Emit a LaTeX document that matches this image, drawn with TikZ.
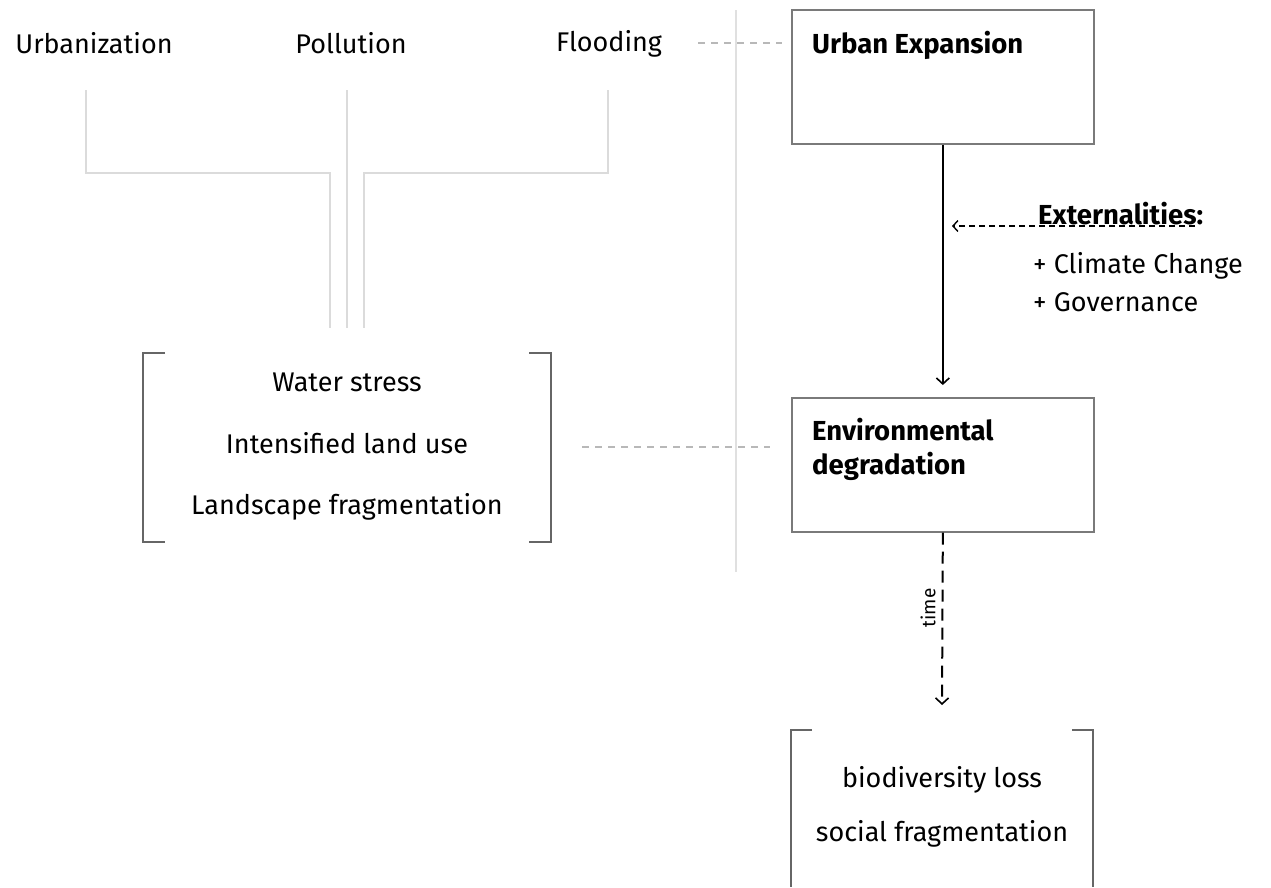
\documentclass[tikz,border=0pt]{standalone}
\usepackage{fontspec}
\setmainfont{Fira Sans}
\usetikzlibrary{arrows.meta}
\begin{document}
\begin{tikzpicture}[x=1pt,y=-1pt,
  lbl/.style={inner sep=0pt, font=\fontsize{27}{32}\selectfont},
  ttl/.style={inner sep=0pt, anchor=north west, align=left,
              font=\fontsize{27.5}{34}\selectfont\bfseries},
  stagebox/.style={draw=black!52, line width=1.7pt, minimum width=302pt,
              minimum height=134pt, anchor=north west, inner sep=0pt},
  tree/.style={draw=black!14, line width=1.3pt},
  link/.style={draw=black!28, line width=1.5pt, dash pattern=on 7pt off 6pt},
  brk/.style={draw=black!60, line width=1.4pt},
  flow/.style={draw=black, line width=1.6pt, -{Straight Barb[length=6pt,width=13pt,line width=1.6pt]}}
]
\useasboundingbox (0,0) rectangle (1271,887);

% divider
\draw[draw=black!12, line width=1.3pt] (736,10) -- (736,572);

% drivers
\node[lbl] (urb) at (94,43) {Urbanization};
\node[lbl] (pol) at (351,43) {Pollution};
\node[lbl] (flo) at (609,44) {Flooding};

\coordinate (urbL) at (86,90);
\coordinate (polL) at (347,90);
\coordinate (floL) at (608,90);
\coordinate (urbE) at (330,328);
\coordinate (polE) at (347,328);
\coordinate (floE) at (364,328);
\draw[tree] (urbL) |- (urbE |- 0,173) -- (urbE);
\draw[tree] (polL) -- (polE);
\draw[tree] (floL) |- (floE |- 0,173) -- (floE);

% stage boxes
\node[stagebox] (ue) at (791,9) {};
\node[ttl] (uet) at (812,31) {Urban Expansion};
\node[stagebox] (ed) at (791,397) {};
\node[ttl] (edt) at (812,418) {Environmental\\degradation};

\coordinate (floR) at (698,43);
\draw[link, shorten >=9pt] (floR) -- (ue.west |- floR);

% main flow
\draw[flow] (ue.south) -- ([yshift=12pt]ed.north);

% externalities
\node[ttl, anchor=west] (ext) at (1038,214) {Externalities:};
\node[lbl, anchor=west] (cc) at (1033,266) {+ Climate Change};
\node[lbl, anchor=west] (gov) at (1033,302) {+ Governance};
\coordinate (extE) at (1195,226);
\draw[draw=black, line width=1.3pt, dash pattern=on 6pt off 4pt,
      -{Straight Barb[length=5pt,width=11pt,line width=1.4pt]}]
      (extE) -- (952,226);

% impacts bracket
\node[lbl] (ws) at (347,382) {Water stress};
\node[lbl] (ilu) at (347,443) {Intensified land use};
\node[lbl] (lf) at (347,507) {Landscape fragmentation};
\coordinate (impL) at (143,353);
\coordinate (impR) at (551,353);
\draw[brk] (165,353) -- (impL) -- (143,542) -- (165,542);
\draw[brk] (529,353) -- (impR) -- (551,542) -- (529,542);
\coordinate (impC) at (582,447);
\draw[link, shorten >=21pt] (impC) -- (ed.west |- impC);

% time arrow
\coordinate (tEnd) at (942,705);
\draw[draw=black, line width=2pt, dash pattern=on 12pt off 7pt,
      -{Straight Barb[length=6pt,width=13pt,line width=1.6pt]}]
      (ed.south) -- (tEnd);
\node[inner sep=0pt, rotate=90, font=\fontsize{19}{21}\selectfont] (time) at (928,608) {time};

% outcomes bracket
\node[lbl] (bl) at (942,780) {biodiversity loss};
\node[lbl] (sf) at (942,834) {social fragmentation};
\draw[brk] (812,730) -- (791,730) -- (791,887);
\draw[brk] (1072,730) -- (1093,730) -- (1093,887);
\end{tikzpicture}
\end{document}
